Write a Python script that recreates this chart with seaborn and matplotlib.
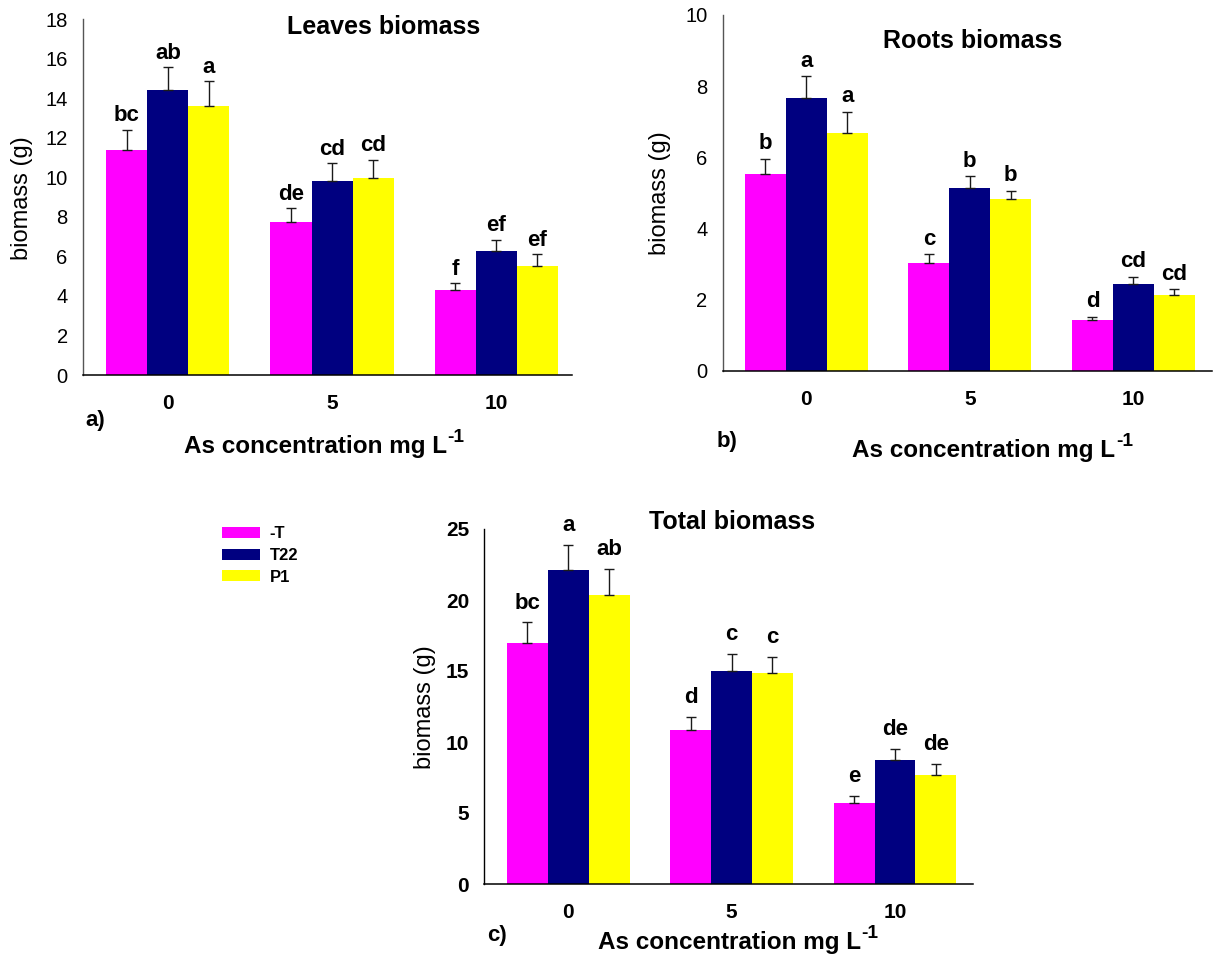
import numpy as np
import pandas as pd
import matplotlib
matplotlib.use("Agg")
import matplotlib.pyplot as plt
import seaborn as sns
from matplotlib.patches import Patch

# ---- data -------------------------------------------------------------
concentrations = ["0", "5", "10"]
treatments = ["-T", "T22", "P1"]
bar_colors = ["#FF00FF", "#000080", "#FFFF00"]

# Leaves biomass (g): means and standard errors per treatment, by As level
leaves_minus_t = [11.4, 7.72, 4.29]
leaves_t22 = [14.4, 9.82, 6.27]
leaves_p1 = [13.6, 9.94, 5.53]
leaves_err_minus_t = [1.00, 0.71, 0.34]
leaves_err_t22 = [1.15, 0.88, 0.58]
leaves_err_p1 = [1.25, 0.95, 0.59]
leaves_letters_minus_t = ["bc", "de", "f"]
leaves_letters_t22 = ["ab", "cd", "ef"]
leaves_letters_p1 = ["a", "cd", "ef"]

# Roots biomass (g)
roots_minus_t = [5.54, 3.04, 1.42]
roots_t22 = [7.68, 5.15, 2.45]
roots_p1 = [6.69, 4.83, 2.13]
roots_err_minus_t = [0.42, 0.24, 0.11]
roots_err_t22 = [0.60, 0.32, 0.20]
roots_err_p1 = [0.58, 0.24, 0.16]
roots_letters_minus_t = ["b", "c", "d"]
roots_letters_t22 = ["a", "b", "cd"]
roots_letters_p1 = ["a", "b", "cd"]

# Total biomass (g)
total_minus_t = [16.99, 10.81, 5.73]
total_t22 = [22.13, 15.01, 8.74]
total_p1 = [20.32, 14.83, 7.66]
total_err_minus_t = [1.43, 0.94, 0.50]
total_err_t22 = [1.72, 1.20, 0.80]
total_err_p1 = [1.84, 1.19, 0.78]
total_letters_minus_t = ["bc", "d", "e"]
total_letters_t22 = ["a", "c", "de"]
total_letters_p1 = ["ab", "c", "de"]

# ---- style --------------------------------------------------------------
sns.set_style("white")
plt.rcParams["font.family"] = ["Liberation Sans", "DejaVu Sans"]
for key in ("text.color", "axes.labelcolor", "xtick.color", "ytick.color"):
    plt.rcParams[key] = "black"

W, H = 1214, 955
fig = plt.figure(figsize=(W / 100, H / 100), dpi=100)
renderer = fig.canvas.get_renderer()


def px_axes(left, top, right, bottom):
    return fig.add_axes([left / W, 1 - bottom / H, (right - left) / W, (bottom - top) / H])


def ftext(x, y, s, **kw):
    return fig.text(x / W, 1 - y / H, s, ha="center", va="center", **kw)


def concentration_label(cx, cy, size=17.5):
    """Bold axis caption 'As concentration mg L' with a raised '-1'."""
    main = fig.text(0, 0, "As concentration mg L", fontsize=size,
                    fontweight="bold", ha="left", va="center")
    sup = fig.text(0, 0, "-1", fontsize=size * 0.78, fontweight="bold",
                   ha="left", va="center")
    wm = main.get_window_extent(renderer).width
    ws = sup.get_window_extent(renderer).width
    x0 = cx - (wm + ws + 1) / 2
    main.set_position((x0 / W, 1 - cy / H))
    sup.set_position(((x0 + wm + 1) / W, 1 - (cy - 9) / H))


def panel(ax, means, errs, letters, ymax, ystep, xlim, letter_pad, bold_yticks):
    df = pd.DataFrame({
        "conc": concentrations * len(treatments),
        "treatment": np.repeat(treatments, len(concentrations)),
        "value": np.concatenate(means),
    })
    sns.barplot(data=df, x="conc", y="value", hue="treatment",
                order=concentrations, hue_order=treatments,
                palette=bar_colors, saturation=1, width=0.75,
                errorbar=None, linewidth=0, legend=False, ax=ax)
    for cont, m_list, e_list, l_list in zip(ax.containers, means, errs, letters):
        for bar, m, e, lab in zip(cont, m_list, e_list, l_list):
            x = bar.get_x() + bar.get_width() / 2
            ax.errorbar(x, m, yerr=[[0], [e]], fmt="none", ecolor="#1a1a1a",
                        elinewidth=1.0, capsize=3.3, capthick=1.0, zorder=3)
            ax.annotate(lab, (x, m + e), xytext=(0, letter_pad),
                        textcoords="offset points", ha="center", va="baseline",
                        fontsize=16, fontweight="bold", color="black",
                        annotation_clip=False)
    ax.set_ylim(0, ymax)
    ax.set_xlim(*xlim)
    ax.set_yticks(np.arange(0, ymax + 0.01, ystep))
    ax.set_xlabel("")
    ax.set_ylabel("")
    for side in ("top", "right"):
        ax.spines[side].set_visible(False)
    ax.spines["bottom"].set_color("black")
    ax.spines["bottom"].set_linewidth(1.1)
    ax.spines["left"].set_color("#555555" if not bold_yticks else "black")
    ax.spines["left"].set_linewidth(1.0)
    ax.tick_params(axis="both", length=0, colors="black")
    ax.tick_params(axis="y", pad=11, labelsize=14.5 if not bold_yticks else 15)
    ax.tick_params(axis="x", pad=14, labelsize=15)
    for t in ax.get_xticklabels():
        t.set_fontweight("bold")
    if bold_yticks:
        for t in ax.get_yticklabels():
            t.set_fontweight("bold")
    ax.set_facecolor("white")


# a) leaves
ax_a = px_axes(83, 19, 572, 375)
panel(ax_a, [leaves_minus_t, leaves_t22, leaves_p1],
      [leaves_err_minus_t, leaves_err_t22, leaves_err_p1],
      [leaves_letters_minus_t, leaves_letters_t22, leaves_letters_p1],
      18, 2, (-0.518, 2.463), 6, False)
ftext(384, 27, "Leaves biomass", fontsize=18, fontweight="bold")
ftext(22, 198, "biomass (g)", fontsize=17, rotation=90)
ftext(95, 420, "a)", fontsize=16, fontweight="bold")
concentration_label(324, 446)

# b) roots
ax_b = px_axes(722.7, 15, 1212, 371)
panel(ax_b, [roots_minus_t, roots_t22, roots_p1],
      [roots_err_minus_t, roots_err_t22, roots_err_p1],
      [roots_letters_minus_t, roots_letters_t22, roots_letters_p1],
      10, 2, (-0.511, 2.481), 7, False)
ftext(973, 41, "Roots biomass", fontsize=18, fontweight="bold")
ftext(660, 193, "biomass (g)", fontsize=17, rotation=90)
ftext(727, 441, "b)", fontsize=16, fontweight="bold")
concentration_label(993, 450)

# c) total
ax_c = px_axes(484.3, 529, 973, 884)
panel(ax_c, [total_minus_t, total_t22, total_p1],
      [total_err_minus_t, total_err_t22, total_err_p1],
      [total_letters_minus_t, total_letters_t22, total_letters_p1],
      25, 5, (-0.514, 2.478), 10, True)
ftext(732, 522, "Total biomass", fontsize=18, fontweight="bold")
ftext(425, 707, "biomass (g)", fontsize=17, rotation=90)
ftext(497, 935, "c)", fontsize=16, fontweight="bold")
concentration_label(738, 942)

handles = [Patch(facecolor=c, edgecolor="none", label=t) for c, t in zip(bar_colors, treatments)]
fig.legend(handles=handles, loc="upper left", bbox_to_anchor=(222 / W, 1 - 526.5 / H),
           frameon=False, prop={"weight": "bold", "size": 12},
           handlelength=2.3, handleheight=0.65, handletextpad=0.55,
           labelspacing=0.39, borderpad=0, borderaxespad=0)

fig.savefig("out.png", dpi=100, facecolor="white")
